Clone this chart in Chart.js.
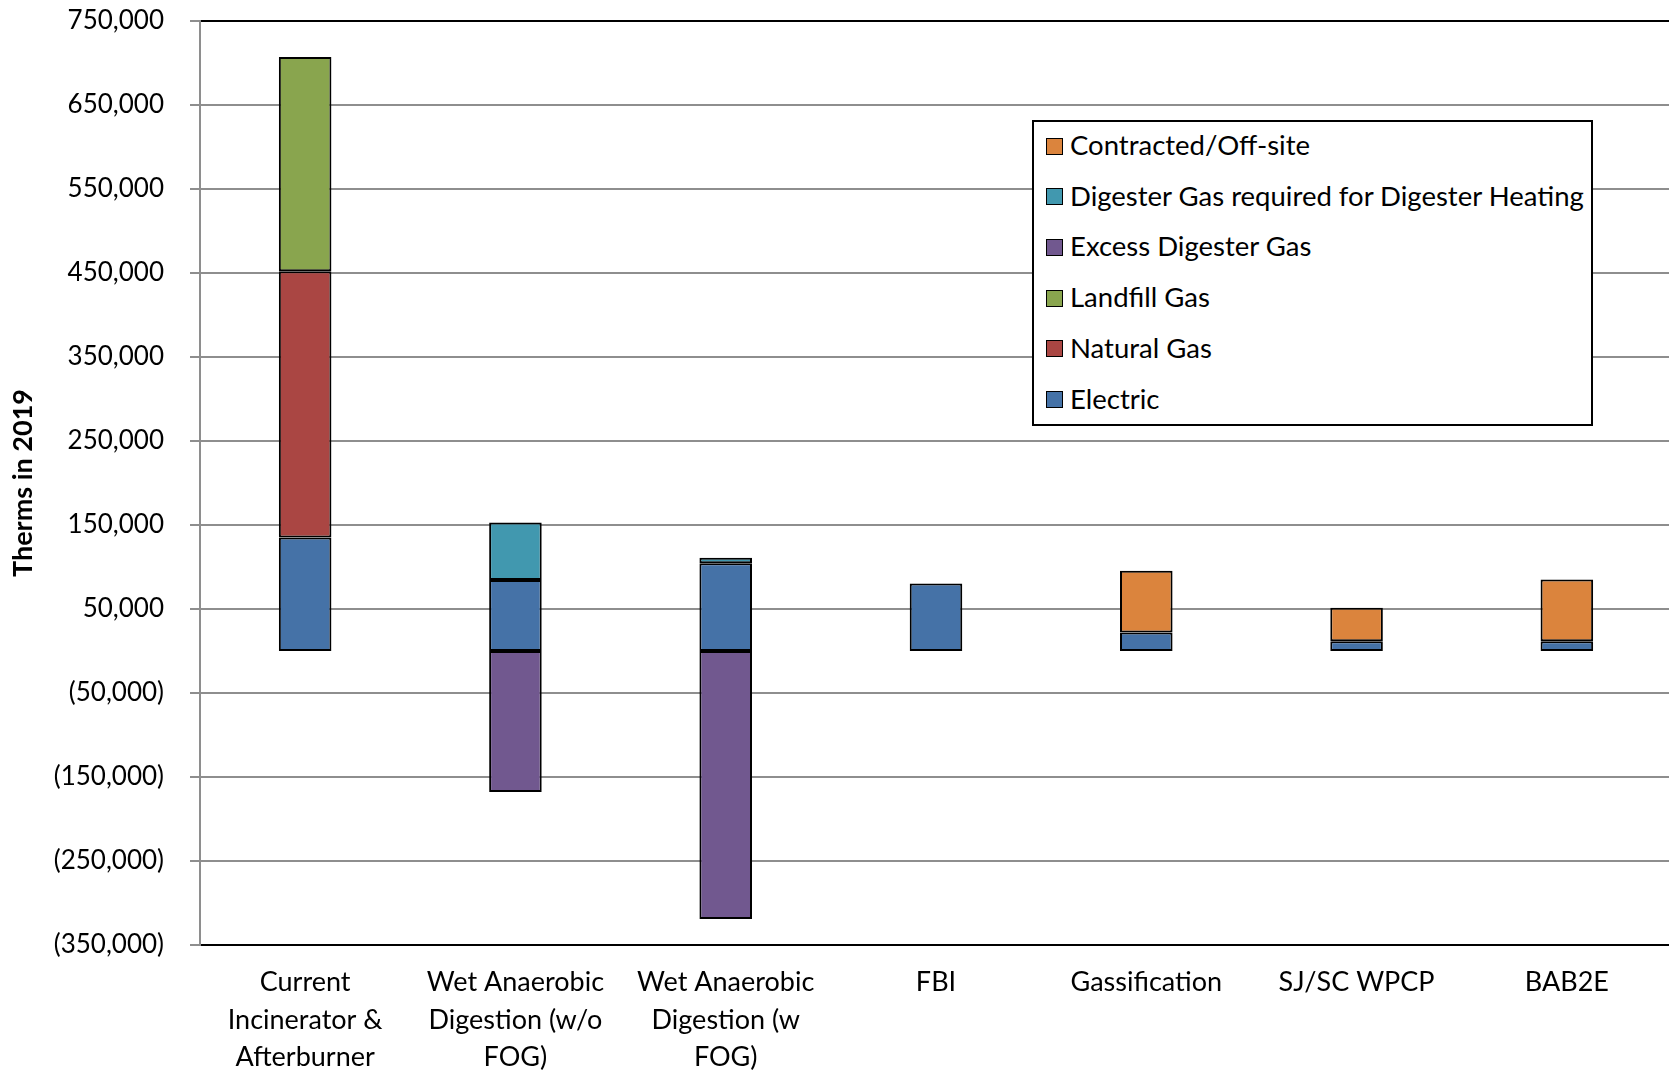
<!DOCTYPE html>
<html>
<head>
<meta charset="utf-8">
<script src="https://cdn.jsdelivr.net/npm/chart.js@4/dist/chart.umd.min.js"></script>
<style>
  html, body { margin: 0; padding: 0; background: #fff; overflow: hidden; }
  #wrap { position: relative; width: 1669px; height: 1074px; overflow: hidden; }
  #holder { position: absolute; left: 0; top: 0; width: 1690px; height: 1074px; }
  #legend {
    position: absolute; left: 1032px; top: 120px; width: 557px; height: 302px;
    border: 2px solid #000; background: #fff; box-sizing: content-box;
    font-family: Lato, "DejaVu Sans", sans-serif; font-size: 27.5px; color: #000;
  }
  #legend .item { position: absolute; left: 12px; height: 32px; line-height: 32px; white-space: nowrap; }
  #legend .sw { display: inline-block; width: 15px; height: 15px; border: 1.5px solid #000; vertical-align: middle; margin-right: 7px; position: relative; top: -2px; }
</style>
</head>
<body>
<div id="wrap">
  <div id="holder"><canvas id="c" width="1690" height="1074"></canvas></div>
  <div id="legend"></div>
</div>
<script>
// Treatment alternatives on the category axis
const categories = [
  ['Current', 'Incinerator &', 'Afterburner'],
  ['Wet Anaerobic', 'Digestion (w/o', 'FOG)'],
  ['Wet Anaerobic', 'Digestion (w', 'FOG)'],
  'FBI',
  'Gassification',
  'SJ/SC WPCP',
  'BAB2E'
];

// Energy use per alternative, therms in 2019
const electric        = [135000, 84500, 104500, 80500, 22000, 11500, 11500];
const naturalGas      = [317000, null, null, null, null, null, null];
const landfillGas     = [255000, null, null, null, null, null, null];
const excessDigGas    = [null, -168000, -319000, null, null, null, null];
const digesterHeating = [null, 68500, 6500, null, null, null, null];
const contracted      = [null, null, null, null, 73500, 40000, 73500];

// Y axis range and tick spacing
const yMin = -350000;
const yMax = 750000;
const yStep = 100000;

function fmt(v) {
  const s = Math.abs(v).toLocaleString('en-US');
  return v < 0 ? '(' + s + ')' : s;
}

const FONT = 'Lato, "DejaVu Sans", sans-serif';

const mk = (label, data, color) => ({
  label, data,
  backgroundColor: color,
  borderColor: '#000',
  borderWidth: 2,
  borderSkipped: false,
  categoryPercentage: 1.0,
  barPercentage: 0.25
});

const chart = new Chart(document.getElementById('c'), {
  type: 'bar',
  data: {
    labels: categories,
    datasets: [
      mk('Electric', electric, '#4572A7'),
      mk('Natural Gas', naturalGas, '#AA4643'),
      mk('Landfill Gas', landfillGas, '#89A54E'),
      mk('Excess Digester Gas', excessDigGas, '#71588F'),
      mk('Digester Gas required for Digester Heating', digesterHeating, '#4198AF'),
      mk('Contracted/Off-site', contracted, '#DB843D')
    ]
  },
  options: {
    responsive: false,
    animation: false,
    devicePixelRatio: 1,
    layout: { padding: { left: 0, right: 18, top: 21, bottom: 0 } },
    plugins: {
      legend: { display: false },
      tooltip: { enabled: false }
    },
    scales: {
      x: {
        stacked: true,
        grid: { display: false, drawTicks: false },
        border: { display: true, color: '#000', width: 2 },
        ticks: {
          color: '#000',
          font: { family: FONT, size: 27, lineHeight: 1.38 },
          padding: 19,
          maxRotation: 0,
          autoSkip: false
        },
        afterFit: s => { s.height = 129; }
      },
      y: {
        stacked: true,
        min: yMin,
        max: yMax,
        ticks: {
          stepSize: yStep,
          color: '#000',
          font: { family: FONT, size: 26 },
          padding: 26,
          callback: v => fmt(v)
        },
        grid: {
          color: c => (c.tick && c.tick.value === yMax) ? '#000' : '#8e8e8e',
          lineWidth: 2,
          tickColor: '#8e8e8e',
          tickLength: 10
        },
        border: { display: true, color: '#8e8e8e', width: 2 },
        title: {
          display: true,
          text: 'Therms in 2019',
          color: '#000',
          font: { family: FONT, size: 27, weight: 'bold' },
          padding: { top: 7, bottom: 0 }
        },
        afterFit: s => { s.width = 200; s.paddingTop = 0; s.paddingBottom = 0; }
      }
    }
  }
});

// Boxed legend, listed in reverse stacking order
const legendEl = document.getElementById('legend');
const items = chart.data.datasets.map(d => ({ label: d.label, color: d.backgroundColor })).reverse();
items.forEach((it, i) => {
  const row = document.createElement('div');
  row.className = 'item';
  row.style.top = (7 + i * 50.7) + 'px';
  const sw = document.createElement('span');
  sw.className = 'sw';
  sw.style.background = it.color;
  row.appendChild(sw);
  row.appendChild(document.createTextNode(it.label));
  legendEl.appendChild(row);
});
</script>
</body>
</html>
